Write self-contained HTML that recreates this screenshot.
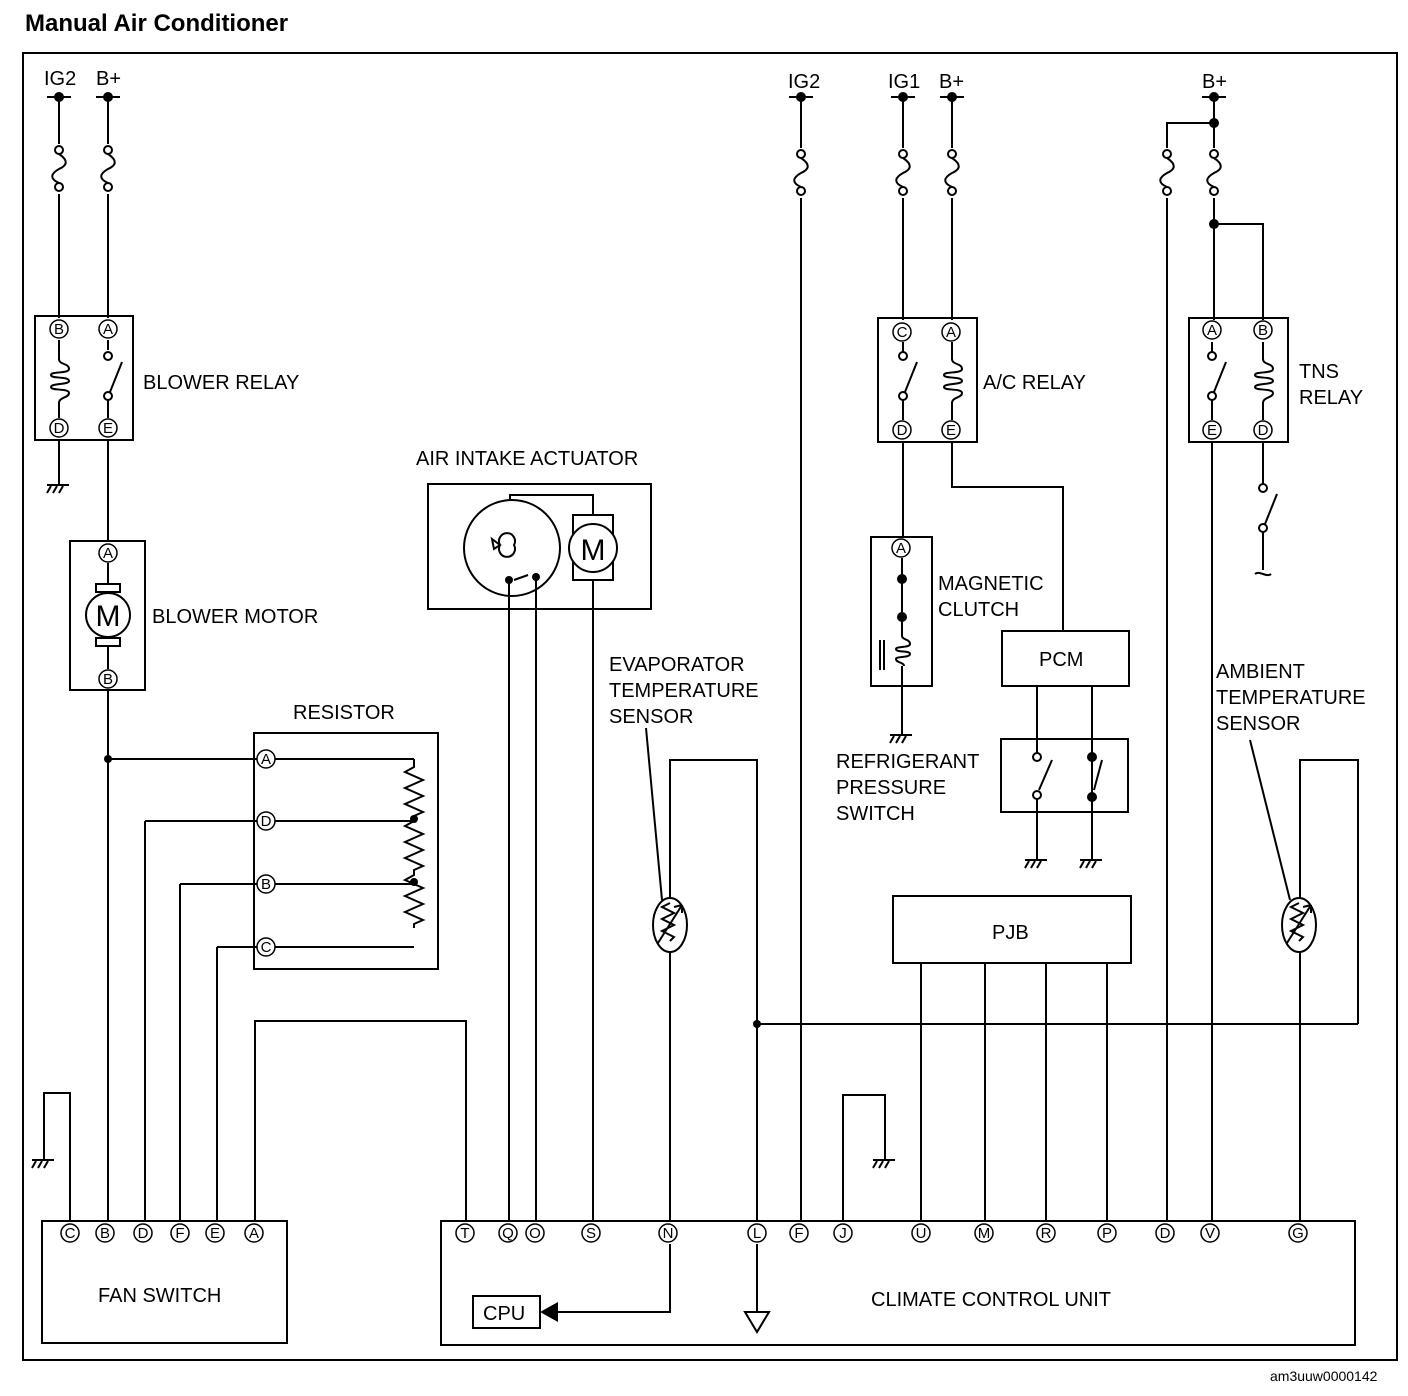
<!DOCTYPE html>
<html><head><meta charset="utf-8">
<style>
html,body{margin:0;padding:0;background:#fff;}
svg{display:block;}
text{font-family:"Liberation Sans",Arial,sans-serif;fill:#000;}
.l{font-size:20px;}
.t{font-size:15px;text-anchor:middle;}
</style></head><body>
<svg width="1408" height="1396" viewBox="0 0 1408 1396" xmlns="http://www.w3.org/2000/svg">
<defs>
<g id="fuse"><circle cx="0" cy="0" r="4" fill="#fff" stroke="#000" stroke-width="2"/><path d="M0,4 c9,6 9,11 0,15 c-9,5 -9,10 0,14" fill="none" stroke="#000" stroke-width="2"/><circle cx="0" cy="37" r="4" fill="#fff" stroke="#000" stroke-width="2"/></g>
<g id="gnd" stroke="#000" stroke-width="2" fill="none"><line x1="-12" y1="0" x2="10" y2="0"/><line x1="-8" y1="1" x2="-12" y2="8"/><line x1="-2" y1="1" x2="-6" y2="8"/><line x1="4" y1="1" x2="0" y2="8"/></g>
<g id="term"><line x1="-12" y1="0" x2="12" y2="0" stroke="#000" stroke-width="2"/><circle cx="0" cy="0" r="5" fill="#000"/></g>
<g id="coil" fill="none" stroke="#000" stroke-width="2"><path d="M0,-22 c0,6 10,4 10,10 c0,5 -18,2 -18,6 c0,4 18,1 18,6 c0,4 -18,2 -18,6 c0,4 18,1 18,6 c0,5 -10,4 -10,10"/></g>
<g id="sw"><circle cx="0" cy="-20" r="4" fill="#fff" stroke="#000" stroke-width="2"/><circle cx="0" cy="20" r="4" fill="#fff" stroke="#000" stroke-width="2"/><line x1="2" y1="16" x2="14" y2="-14" stroke="#000" stroke-width="2"/></g>
<g id="therm"><ellipse cx="0" cy="0" rx="17" ry="27" fill="#fff" stroke="#000" stroke-width="2"/><path d="M0,-22 l-8,4 l12,6 l-12,6 l12,6 l-12,6 l12,6 l-4,4" fill="none" stroke="#000" stroke-width="2"/><line x1="-12" y1="18" x2="12" y2="-20" stroke="#000" stroke-width="2"/><path d="M12,-20 l-8,2 m8,-2 l0,8" stroke="#000" stroke-width="2" fill="none"/></g>
</defs>
<text x="25" y="31" style="font-size:24px;font-weight:bold">Manual Air Conditioner</text>
<text x="1270" y="1381" style="font-size:14px">am3uuw0000142</text>
<rect x="23" y="53" width="1374" height="1307" fill="none" stroke="#000" stroke-width="2"/>

<g stroke="#000" stroke-width="2" fill="none">
<line x1="59" y1="97" x2="59" y2="318"/><line x1="108" y1="97" x2="108" y2="318"/>
<rect x="35" y="316" width="98" height="124"/>
<line x1="59" y1="340" x2="59" y2="360"/><line x1="59" y1="402" x2="59" y2="418"/>
<line x1="108" y1="340" x2="108" y2="350"/><line x1="108" y1="398" x2="108" y2="418"/>
<line x1="59" y1="440" x2="59" y2="485"/>
<line x1="108" y1="440" x2="108" y2="541"/>
<rect x="70" y="541" width="75" height="149"/>
<line x1="108" y1="563" x2="108" y2="584"/><rect x="96" y="584" width="24" height="8"/><rect x="96" y="638" width="24" height="8"/>
<line x1="108" y1="646" x2="108" y2="669"/>
<line x1="108" y1="690" x2="108" y2="1222"/>
<line x1="108" y1="759" x2="257" y2="759"/>
<rect x="254" y="733" width="184" height="236"/>
<line x1="275" y1="759" x2="414" y2="759"/>
<line x1="275" y1="821" x2="414" y2="821"/>
<line x1="275" y1="884" x2="414" y2="884"/>
<line x1="275" y1="947" x2="414" y2="947"/>
<path d="M414,759 l0,8 l-9,5 l18,8 l-18,8 l18,8 l-18,8 l18,8 l-9,4 l0,5 l-9,5 l18,8 l-18,8 l18,8 l-18,8 l18,8 l-9,4 l0,5 l-9,5 l18,8 l-18,8 l18,8 l-18,8 l18,8 l-9,4 l0,4"/>
<line x1="257" y1="821" x2="145" y2="821"/><line x1="145" y1="821" x2="145" y2="1222"/>
<line x1="257" y1="884" x2="180" y2="884"/><line x1="180" y1="884" x2="180" y2="1222"/>
<line x1="257" y1="947" x2="217" y2="947"/><line x1="217" y1="947" x2="217" y2="1222"/>
<rect x="42" y="1221" width="245" height="122"/>
<polyline points="70,1222 70,1093 44,1093 44,1160"/>
<polyline points="255,1222 255,1021 466,1021 466,1222"/>
<rect x="428" y="484" width="223" height="125"/>
<circle cx="512" cy="548" r="48"/>
<rect x="573" y="515" width="40" height="65"/>
<circle cx="593" cy="548" r="24" fill="#fff"/>
<polyline points="510,500 510,495 593,495 593,515"/>
<path d="M500,545 a8,8 0 1 0 14,0 a8,8 0 1 0 -14,0 M500,545 l-8,-6 l2,10 z"/>
<path d="M514,580 l14,-5"/>
<line x1="509" y1="583" x2="509" y2="1222"/>
<line x1="536" y1="580" x2="536" y2="1222"/>
<line x1="593" y1="580" x2="593" y2="1222"/>
<polyline points="670,1222 670,760 757,760 757,1222"/>
<line x1="757" y1="1024" x2="1358" y2="1024"/>
<polyline points="1358,1024 1358,760 1300,760 1300,1222"/>
<line x1="646" y1="728" x2="662" y2="900"/>
<line x1="1250" y1="740" x2="1290" y2="900"/>
<rect x="441" y="1221" width="914" height="124"/>
<rect x="473" y="1296" width="67" height="32"/>
<polyline points="670,1244 670,1312 556,1312"/>
<line x1="757" y1="1244" x2="757" y2="1312"/>
<path d="M745,1312 h24 l-12,20 z"/>
<polyline points="843,1222 843,1095 885,1095 885,1160"/>
<line x1="801" y1="97" x2="801" y2="1222"/>
<line x1="903" y1="97" x2="903" y2="320"/><line x1="952" y1="97" x2="952" y2="320"/>
<rect x="878" y="318" width="99" height="124"/>
<line x1="903" y1="342" x2="903" y2="356"/><line x1="903" y1="398" x2="903" y2="420"/>
<line x1="952" y1="342" x2="952" y2="360"/><line x1="952" y1="402" x2="952" y2="420"/>
<line x1="903" y1="442" x2="903" y2="537"/>
<polyline points="952,442 952,487 1063,487 1063,631"/>
<rect x="871" y="537" width="61" height="149"/>
<line x1="902" y1="558" x2="902" y2="636"/>
<line x1="902" y1="666" x2="902" y2="735"/>
<path d="M880,640 v30 M884,640 v30"/>
<path d="M902,636 c0,4 8,3 8,8 c0,4 -14,2 -14,5 c0,4 14,1 14,5 c0,4 -14,2 -14,5 c0,4 8,3 8,7"/>
<rect x="1002" y="631" width="127" height="55"/>
<rect x="1001" y="739" width="127" height="73"/>
<line x1="1037" y1="686" x2="1037" y2="753"/><line x1="1037" y1="799" x2="1037" y2="860"/>
<line x1="1092" y1="686" x2="1092" y2="860"/>
<line x1="1039" y1="790" x2="1052" y2="760"/>
<line x1="1094" y1="790" x2="1102" y2="760"/>
<rect x="893" y="896" width="238" height="67"/>
<line x1="921" y1="963" x2="921" y2="1222"/>
<line x1="985" y1="963" x2="985" y2="1222"/>
<line x1="1046" y1="963" x2="1046" y2="1222"/>
<line x1="1107" y1="963" x2="1107" y2="1222"/>
<line x1="1214" y1="97" x2="1214" y2="320"/>
<polyline points="1214,123 1167,123 1167,1222"/>
<polyline points="1214,224 1263,224 1263,320"/>
<rect x="1189" y="318" width="99" height="124"/>
<line x1="1212" y1="342" x2="1212" y2="356"/><line x1="1212" y1="398" x2="1212" y2="420"/>
<line x1="1263" y1="342" x2="1263" y2="360"/><line x1="1263" y1="402" x2="1263" y2="420"/>
<line x1="1212" y1="442" x2="1212" y2="1222"/>
<line x1="1263" y1="442" x2="1263" y2="486"/>
<line x1="1263" y1="530" x2="1263" y2="570"/>
<path d="M1255,574 c4,-4 12,4 16,0"/>
</g>
<g fill="#fff" stroke="none">
<rect x="50" y="144" width="18" height="50"/><rect x="99" y="144" width="18" height="50"/>
<rect x="792" y="148" width="18" height="50"/><rect x="894" y="148" width="18" height="50"/><rect x="943" y="148" width="18" height="50"/>
<rect x="1158" y="148" width="18" height="50"/><rect x="1205" y="148" width="18" height="50"/>
</g>
<use href="#fuse" x="59" y="150"/><use href="#fuse" x="108" y="150"/>
<use href="#fuse" x="801" y="154"/><use href="#fuse" x="903" y="154"/><use href="#fuse" x="952" y="154"/>
<use href="#fuse" x="1167" y="154"/><use href="#fuse" x="1214" y="154"/>
<use href="#term" x="59" y="97"/><use href="#term" x="108" y="97"/>
<use href="#term" x="801" y="97"/><use href="#term" x="903" y="97"/><use href="#term" x="952" y="97"/><use href="#term" x="1214" y="97"/>
<circle cx="1214" cy="123" r="5"/><circle cx="1214" cy="224" r="5"/>
<circle cx="108" cy="759" r="4"/><circle cx="414" cy="819" r="4"/><circle cx="414" cy="882" r="4"/><circle cx="757" cy="1024" r="4"/>
<circle cx="902" cy="579" r="5"/><circle cx="902" cy="617" r="5"/>
<circle cx="1092" cy="757" r="5"/><circle cx="1092" cy="797" r="5"/>
<circle cx="1037" cy="757" r="4" fill="#fff" stroke="#000" stroke-width="2"/><circle cx="1037" cy="795" r="4" fill="#fff" stroke="#000" stroke-width="2"/>
<circle cx="509" cy="580" r="4"/><circle cx="536" cy="577" r="4"/>
<use href="#coil" x="59" y="381"/><use href="#sw" x="108" y="376"/>
<use href="#sw" x="903" y="376"/><use href="#coil" x="952" y="381"/>
<use href="#sw" x="1212" y="376"/><use href="#coil" x="1263" y="381"/>
<use href="#sw" x="1263" y="508"/>
<use href="#gnd" x="59" y="485"/><use href="#gnd" x="44" y="1160"/><use href="#gnd" x="885" y="1160"/>
<use href="#gnd" x="902" y="735"/><use href="#gnd" x="1037" y="860"/><use href="#gnd" x="1092" y="860"/>
<use href="#therm" x="670" y="925"/><use href="#therm" x="1299" y="925"/>
<path d="M540,1312 l18,-10 v20 z" fill="#000"/>
<circle cx="108" cy="615" r="22" fill="#fff" stroke="#000" stroke-width="2"/>
<text x="108" y="626" style="font-size:30px;text-anchor:middle">M</text>
<text x="593" y="560" style="font-size:30px;text-anchor:middle">M</text>

<g fill="#fff" stroke="#000" stroke-width="1.5">
<circle cx="59" cy="329" r="9"/><circle cx="108" cy="329" r="9"/><circle cx="59" cy="428" r="9"/><circle cx="108" cy="428" r="9"/>
<circle cx="108" cy="553" r="9"/><circle cx="108" cy="679" r="9"/>
<circle cx="266" cy="759" r="9"/><circle cx="266" cy="821" r="9"/><circle cx="266" cy="884" r="9"/><circle cx="266" cy="947" r="9"/>
<circle cx="70" cy="1233" r="9"/><circle cx="105" cy="1233" r="9"/><circle cx="143" cy="1233" r="9"/><circle cx="180" cy="1233" r="9"/><circle cx="215" cy="1233" r="9"/><circle cx="254" cy="1233" r="9"/>
<circle cx="465" cy="1233" r="9"/><circle cx="508" cy="1233" r="9"/><circle cx="535" cy="1233" r="9"/><circle cx="591" cy="1233" r="9"/><circle cx="668" cy="1233" r="9"/><circle cx="757" cy="1233" r="9"/><circle cx="799" cy="1233" r="9"/><circle cx="843" cy="1233" r="9"/><circle cx="921" cy="1233" r="9"/><circle cx="984" cy="1233" r="9"/><circle cx="1046" cy="1233" r="9"/><circle cx="1107" cy="1233" r="9"/><circle cx="1165" cy="1233" r="9"/><circle cx="1210" cy="1233" r="9"/><circle cx="1298" cy="1233" r="9"/>
<circle cx="902" cy="332" r="9"/><circle cx="951" cy="332" r="9"/><circle cx="902" cy="430" r="9"/><circle cx="951" cy="430" r="9"/>
<circle cx="901" cy="548" r="9"/>
<circle cx="1212" cy="330" r="9"/><circle cx="1263" cy="330" r="9"/><circle cx="1212" cy="430" r="9"/><circle cx="1263" cy="430" r="9"/>
</g>
<g class="t">
<text class="t" x="59" y="334">B</text><text class="t" x="108" y="334">A</text><text class="t" x="59" y="433">D</text><text class="t" x="108" y="433">E</text>
<text class="t" x="108" y="558">A</text><text class="t" x="108" y="684">B</text>
<text class="t" x="266" y="764">A</text><text class="t" x="266" y="826">D</text><text class="t" x="266" y="889">B</text><text class="t" x="266" y="952">C</text>
<text class="t" x="70" y="1238">C</text><text class="t" x="105" y="1238">B</text><text class="t" x="143" y="1238">D</text><text class="t" x="180" y="1238">F</text><text class="t" x="215" y="1238">E</text><text class="t" x="254" y="1238">A</text>
<text class="t" x="465" y="1238">T</text><text class="t" x="508" y="1238">Q</text><text class="t" x="535" y="1238">O</text><text class="t" x="591" y="1238">S</text><text class="t" x="668" y="1238">N</text><text class="t" x="757" y="1238">L</text><text class="t" x="799" y="1238">F</text><text class="t" x="843" y="1238">J</text><text class="t" x="921" y="1238">U</text><text class="t" x="984" y="1238">M</text><text class="t" x="1046" y="1238">R</text><text class="t" x="1107" y="1238">P</text><text class="t" x="1165" y="1238">D</text><text class="t" x="1210" y="1238">V</text><text class="t" x="1298" y="1238">G</text>
<text class="t" x="902" y="337">C</text><text class="t" x="951" y="337">A</text><text class="t" x="902" y="435">D</text><text class="t" x="951" y="435">E</text>
<text class="t" x="901" y="553">A</text>
<text class="t" x="1212" y="335">A</text><text class="t" x="1263" y="335">B</text><text class="t" x="1212" y="435">E</text><text class="t" x="1263" y="435">D</text>
</g>
<g class="l">
<text class="l" x="44" y="85">IG2</text><text class="l" x="96" y="85">B+</text>
<text class="l" x="788" y="88">IG2</text><text class="l" x="888" y="88">IG1</text><text class="l" x="939" y="88">B+</text><text class="l" x="1202" y="88">B+</text>
<text class="l" x="143" y="389">BLOWER RELAY</text>
<text class="l" x="152" y="623">BLOWER MOTOR</text>
<text class="l" x="293" y="719">RESISTOR</text>
<text class="l" x="416" y="465">AIR INTAKE ACTUATOR</text>
<text class="l" x="609" y="671">EVAPORATOR</text><text class="l" x="609" y="697">TEMPERATURE</text><text class="l" x="609" y="723">SENSOR</text>
<text class="l" x="983" y="389">A/C RELAY</text>
<text class="l" x="938" y="590">MAGNETIC</text><text class="l" x="938" y="616">CLUTCH</text>
<text class="l" x="1039" y="666">PCM</text>
<text class="l" x="836" y="768">REFRIGERANT</text><text class="l" x="836" y="794">PRESSURE</text><text class="l" x="836" y="820">SWITCH</text>
<text class="l" x="992" y="939">PJB</text>
<text class="l" x="1299" y="378">TNS</text><text class="l" x="1299" y="404">RELAY</text>
<text class="l" x="1216" y="678">AMBIENT</text><text class="l" x="1216" y="704">TEMPERATURE</text><text class="l" x="1216" y="730">SENSOR</text>
<text class="l" x="98" y="1302">FAN SWITCH</text>
<text class="l" x="871" y="1306">CLIMATE CONTROL UNIT</text>
<text class="l" x="483" y="1320">CPU</text>
</g>
</svg>
</body></html>
